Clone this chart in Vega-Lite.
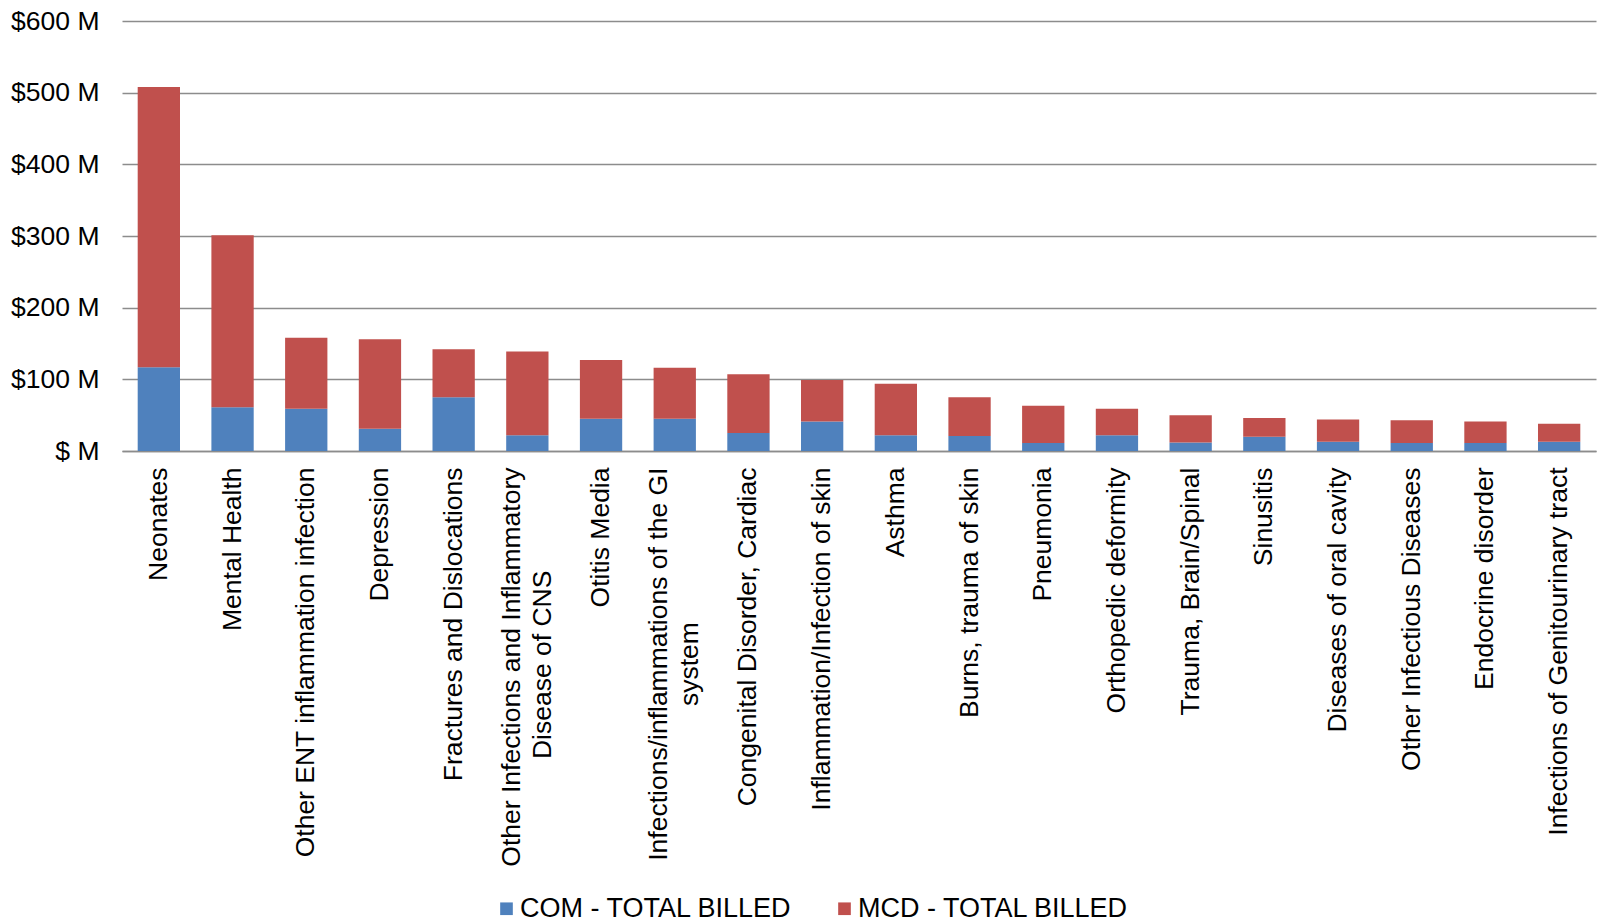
{
  "$schema": "https://vega.github.io/schema/vega-lite/v6.json",
  "autosize": {"type": "none"},
  "width": 1474,
  "height": 430,
  "padding": {"left": 122, "top": 21, "right": 2, "bottom": 471},
  "background": "white",
  "config": {
    "view": {"stroke": null},
    "font": "Liberation Sans",
    "text": {"font": "Liberation Sans"}
  },
  "data": {
    "values": [
      {"category": "Neonates", "series": "COM - TOTAL BILLED", "billed": 117},
      {"category": "Neonates", "series": "MCD - TOTAL BILLED", "billed": 391},
      {"category": "Mental Health", "series": "COM - TOTAL BILLED", "billed": 61},
      {"category": "Mental Health", "series": "MCD - TOTAL BILLED", "billed": 240},
      {"category": "Other ENT inflammation infection", "series": "COM - TOTAL BILLED", "billed": 59},
      {"category": "Other ENT inflammation infection", "series": "MCD - TOTAL BILLED", "billed": 99},
      {"category": "Depression", "series": "COM - TOTAL BILLED", "billed": 31},
      {"category": "Depression", "series": "MCD - TOTAL BILLED", "billed": 125},
      {"category": "Fractures and Dislocations", "series": "COM - TOTAL BILLED", "billed": 75},
      {"category": "Fractures and Dislocations", "series": "MCD - TOTAL BILLED", "billed": 67},
      {"category": "Other Infections and Inflammatory Disease of CNS", "series": "COM - TOTAL BILLED", "billed": 22},
      {"category": "Other Infections and Inflammatory Disease of CNS", "series": "MCD - TOTAL BILLED", "billed": 117},
      {"category": "Otitis Media", "series": "COM - TOTAL BILLED", "billed": 45},
      {"category": "Otitis Media", "series": "MCD - TOTAL BILLED", "billed": 82},
      {"category": "Infections/inflammations of the GI system", "series": "COM - TOTAL BILLED", "billed": 45},
      {"category": "Infections/inflammations of the GI system", "series": "MCD - TOTAL BILLED", "billed": 71},
      {"category": "Congenital Disorder, Cardiac", "series": "COM - TOTAL BILLED", "billed": 25},
      {"category": "Congenital Disorder, Cardiac", "series": "MCD - TOTAL BILLED", "billed": 82},
      {"category": "Inflammation/Infection of skin", "series": "COM - TOTAL BILLED", "billed": 41},
      {"category": "Inflammation/Infection of skin", "series": "MCD - TOTAL BILLED", "billed": 58},
      {"category": "Asthma", "series": "COM - TOTAL BILLED", "billed": 22},
      {"category": "Asthma", "series": "MCD - TOTAL BILLED", "billed": 72},
      {"category": "Burns, trauma of skin", "series": "COM - TOTAL BILLED", "billed": 21},
      {"category": "Burns, trauma of skin", "series": "MCD - TOTAL BILLED", "billed": 54},
      {"category": "Pneumonia", "series": "COM - TOTAL BILLED", "billed": 11},
      {"category": "Pneumonia", "series": "MCD - TOTAL BILLED", "billed": 52},
      {"category": "Orthopedic deformity", "series": "COM - TOTAL BILLED", "billed": 22},
      {"category": "Orthopedic deformity", "series": "MCD - TOTAL BILLED", "billed": 37},
      {"category": "Trauma, Brain/Spinal", "series": "COM - TOTAL BILLED", "billed": 12},
      {"category": "Trauma, Brain/Spinal", "series": "MCD - TOTAL BILLED", "billed": 38},
      {"category": "Sinusitis", "series": "COM - TOTAL BILLED", "billed": 20},
      {"category": "Sinusitis", "series": "MCD - TOTAL BILLED", "billed": 26},
      {"category": "Diseases of oral cavity", "series": "COM - TOTAL BILLED", "billed": 13},
      {"category": "Diseases of oral cavity", "series": "MCD - TOTAL BILLED", "billed": 31},
      {"category": "Other Infectious Diseases", "series": "COM - TOTAL BILLED", "billed": 11},
      {"category": "Other Infectious Diseases", "series": "MCD - TOTAL BILLED", "billed": 32},
      {"category": "Endocrine disorder", "series": "COM - TOTAL BILLED", "billed": 11},
      {"category": "Endocrine disorder", "series": "MCD - TOTAL BILLED", "billed": 30},
      {"category": "Infections of Genitourinary tract", "series": "COM - TOTAL BILLED", "billed": 13},
      {"category": "Infections of Genitourinary tract", "series": "MCD - TOTAL BILLED", "billed": 25}
    ]
  },
  "mark": {"type": "bar"},
  "encoding": {
    "x": {
      "field": "category",
      "type": "nominal",
      "sort": null,
      "scale": {"paddingInner": 0.426, "paddingOuter": 0.213},
      "axis": {
        "title": null,
        "labelAngle": -90,
        "labelFontSize": 26.5,
        "labelFont": "Liberation Sans",
        "labelColor": "#000000",
        "labelPadding": 16,
        "labelLimit": 0,
        "labelLineHeight": 31,
        "labelOffset": {"condition": {"test": "datum.value == 'Other Infections and Inflammatory Disease of CNS' || datum.value == 'Infections/inflammations of the GI system'", "value": -15.5}, "value": 0},
        "ticks": false,
        "domain": true,
        "domainColor": "#8c8c8c",
        "domainWidth": 1.5,
        "labelExpr": "datum.value == 'Other Infections and Inflammatory Disease of CNS' ? ['Other Infections and Inflammatory', 'Disease of CNS\u00a0\u00a0\u00a0\u00a0\u00a0\u00a0\u00a0\u00a0\u00a0\u00a0\u00a0\u00a0\u00a0\u00a0\u200b'] : datum.value == 'Infections/inflammations of the GI system' ? ['Infections/inflammations of the GI', 'system\u00a0\u00a0\u00a0\u00a0\u00a0\u00a0\u00a0\u00a0\u00a0\u00a0\u00a0\u00a0\u00a0\u00a0\u00a0\u00a0\u00a0\u00a0\u00a0\u00a0\u00a0\u200b'] : datum.value"
      }
    },
    "y": {
      "field": "billed",
      "type": "quantitative",
      "aggregate": "sum",
      "stack": "zero",
      "scale": {"domain": [0, 600], "nice": false},
      "axis": {
        "title": null,
        "values": [0, 100, 200, 300, 400, 500, 600],
        "labelFontSize": 26.5,
        "labelFont": "Liberation Sans",
        "labelColor": "#000000",
        "labelPadding": 23,
        "ticks": false,
        "domain": false,
        "grid": true,
        "gridColor": "#8c8c8c",
        "gridWidth": 1.5,
        "labelExpr": "datum.value == 0 ? '$ M' : '$' + datum.value + ' M'"
      }
    },
    "order": {"field": "series", "sort": "ascending"},
    "color": {
      "field": "series",
      "type": "nominal",
      "scale": {
        "domain": ["COM - TOTAL BILLED", "MCD - TOTAL BILLED"],
        "range": ["#4F81BD", "#C0504D"]
      },
      "legend": {
        "title": null,
        "orient": "none",
        "legendX": 371,
        "legendY": 874,
        "direction": "horizontal",
        "symbolType": "square",
        "symbolSize": 160,
        "symbolStrokeWidth": 0,
        "labelFontSize": 27,
        "labelFont": "Liberation Sans",
        "labelColor": "#000000",
        "labelOffset": 0,
        "labelLimit": 0,
        "columnPadding": 38
      }
    }
  }
}
